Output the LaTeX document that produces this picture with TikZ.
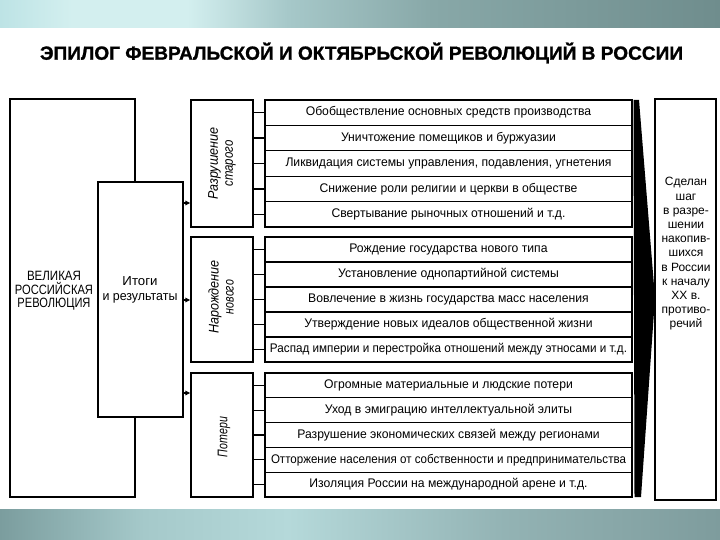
\documentclass[tikz,border=0pt]{standalone}
\usepackage{fontspec}
\setmainfont{Liberation Sans}
\newfontfamily\heavyfont[FakeBold=1.2]{Liberation Sans Bold}
\usetikzlibrary{arrows.meta}
\newcommand{\fitw}[2]{\resizebox{#1}{\height}{#2}}
\newcommand{\itemfont}{\fontsize{12.5}{14}\selectfont}
\newsavebox{\refbox}
\newcommand{\itx}[1]{\scalebox{\itemsx}[1]{#1}}
\definecolor{tbA}{HTML}{BDE3E5}
\definecolor{tbB}{HTML}{D3EFEF}
\definecolor{tbC}{HTML}{A6C8C9}
\definecolor{tbD}{HTML}{88A8A8}
\definecolor{tbE}{HTML}{6F8D8D}
\definecolor{bbA}{HTML}{7B9D9E}
\definecolor{bbB}{HTML}{A5C9CA}
\definecolor{bbC}{HTML}{B5D9DA}
\definecolor{bbD}{HTML}{93B3B4}
\definecolor{bbE}{HTML}{7E9C9D}
\pgfdeclarehorizontalshading{topband}{100bp}{color(0bp)=(tbA); color(25bp)=(tbA); color(30bp)=(tbB); color(38bp)=(tbB); color(45bp)=(tbC); color(55bp)=(tbD); color(75bp)=(tbE); color(100bp)=(tbE)}
\pgfdeclarehorizontalshading{botband}{100bp}{color(0bp)=(bbA); color(25bp)=(bbA); color(35bp)=(bbB); color(45bp)=(bbC); color(60bp)=(bbD); color(75bp)=(bbE); color(100bp)=(bbE)}
\tikzset{
  box/.style={draw, line width=1.3pt, fill=white, inner sep=0pt},
  itembox/.style={box, minimum width=367pt, font=\itemfont},
  catbox/.style={box, minimum width=62pt},
  cattxt/.style={rotate=90, align=center, inner sep=0pt, font=\fontsize{14}{15}\selectfont\itshape},
  stub/.style={line width=1.3pt},
  arr/.style={line width=1.3pt, -{Triangle[length=5pt,width=4.5pt]}},
}
\begin{document}
\sbox{\refbox}{\itemfont Ликвидация системы управления, подавления, угнетения}%
\pgfmathsetmacro{\itemsx}{326/\wd\refbox}%
\begin{tikzpicture}[x=1pt,y=-1pt]
\useasboundingbox (0,0) rectangle (720,540);
\fill[white] (0,0) rectangle (720,540);
\shade[shading=topband] (0,0) rectangle (720,28);
\shade[shading=botband] (0,509) rectangle (720,540);

% title
\node[font=\fontsize{19}{21}\selectfont\heavyfont, inner sep=0pt] (title) at (361.5,53) {\fitw{643pt}{ЭПИЛОГ ФЕВРАЛЬСКОЙ И ОКТЯБРЬСКОЙ РЕВОЛЮЦИЙ В РОССИИ}};

% left boxes
\node[box, minimum width=125pt, minimum height=398pt] (rev) at (72.5,298) {};
\node[align=center, inner sep=0pt, font=\fontsize{13.5}{13.5}\selectfont] (revtxt) at (54,291)
  {\fitw{54pt}{ВЕЛИКАЯ}\\\fitw{78pt}{РОССИЙСКАЯ}\\\fitw{73pt}{РЕВОЛЮЦИЯ}};
\node[box, minimum width=85pt, minimum height=235pt] (itogi) at (140.5,299.5) {};
\node[align=center, inner sep=0pt, font=\fontsize{13}{14.5}\selectfont] (itogitxt) at (140,290)
  {\fitw{35pt}{Итоги}\\\fitw{75pt}{и результаты}};

% category boxes
\node[catbox, minimum height=127pt] (c1) at (222,163.5) {};
\node[cattxt] (c1t) at (c1.center) {\fitw{72pt}{Разрушение}\\\fitw{46pt}{старого}};
\node[catbox, minimum height=125pt] (c2) at (222,299.5) {};
\node[cattxt] (c2t) at (221,297) {\fitw{73pt}{Нарождение}\\\fitw{34pt}{нового}};
\node[catbox, minimum height=124pt] (c3) at (222,435) {};
\node[cattxt] (c3t) at (224,437) {\fitw{40pt}{Потери}};

% arrows from Итоги
\coordinate (a1) at (183,203);
\coordinate (a2) at (183,300);
\coordinate (a3) at (183,393);
\draw[arr] (a1) -- (a1 -| c1.west);
\draw[arr] (a2) -- (a2 -| c2.west);
\draw[arr] (a3) -- (a3 -| c3.west);

% items group 1
\node[itembox, minimum height=25.4pt] (i1) at (448.5,112.7) {\itx{Обобществление основных средств производства}};
\node[itembox, minimum height=25.4pt] (i2) at (448.5,138.1) {\itx{Уничтожение помещиков и буржуазии}};
\node[itembox, minimum height=25.4pt] (i3) at (448.5,163.5) {\itx{Ликвидация системы управления, подавления, угнетения}};
\node[itembox, minimum height=25.4pt] (i4) at (448.5,188.9) {\itx{Снижение роли религии и церкви в обществе}};
\node[itembox, minimum height=25.4pt] (i5) at (448.5,214.3) {\itx{Свертывание рыночных отношений и т.д.}};
% items group 2
\node[itembox, minimum height=25pt] (i6) at (448.5,249.5) {\itx{Рождение государства нового типа}};
\node[itembox, minimum height=25pt] (i7) at (448.5,274.5) {\itx{Установление однопартийной системы}};
\node[itembox, minimum height=25pt] (i8) at (448.5,299.5) {\itx{Вовлечение в жизнь государства масс населения}};
\node[itembox, minimum height=25pt] (i9) at (448.5,324.5) {\itx{Утверждение новых идеалов общественной жизни}};
\node[itembox, minimum height=25pt] (i10) at (448.5,349.5) {\fitw{357pt}{Распад империи и перестройка отношений между этносами и т.д.}};
% items group 3
\node[itembox, minimum height=24.8pt] (i11) at (448.5,385.4) {\itx{Огромные материальные и людские потери}};
\node[itembox, minimum height=24.8pt] (i12) at (448.5,410.2) {\itx{Уход в эмиграцию интеллектуальной элиты}};
\node[itembox, minimum height=24.8pt] (i13) at (448.5,435) {\itx{Разрушение экономических связей между регионами}};
\node[itembox, minimum height=24.8pt] (i14) at (448.5,459.8) {\fitw{355pt}{Отторжение населения от собственности и предпринимательства}};
\node[itembox, minimum height=24.8pt] (i15) at (448.5,484.6) {\itx{Изоляция России на международной арене и т.д.}};

% stubs
\foreach \i in {1,...,5} {\draw[stub] (c1.east |- i\i.west) -- (i\i.west);}
\foreach \i in {6,...,10} {\draw[stub] (c2.east |- i\i.west) -- (i\i.west);}
\foreach \i in {11,...,15} {\draw[stub] (c3.east |- i\i.west) -- (i\i.west);}

% wedge
\fill[black] (633.5,100) -- (639,100) -- (655,298) -- (641,497) -- (634.5,497) -- cycle;

% right box
\node[box, minimum width=61pt, minimum height=401pt] (res) at (685.5,299.5) {};
\node[align=center, inner sep=0pt, font=\fontsize{12}{14.2}\selectfont] (restxt) at (686,254)
  {Сделан\\шаг\\в разре-\\шении\\накопив-\\шихся\\в России\\к началу\\XX в.\\противо-\\речий};
\end{tikzpicture}
\end{document}
